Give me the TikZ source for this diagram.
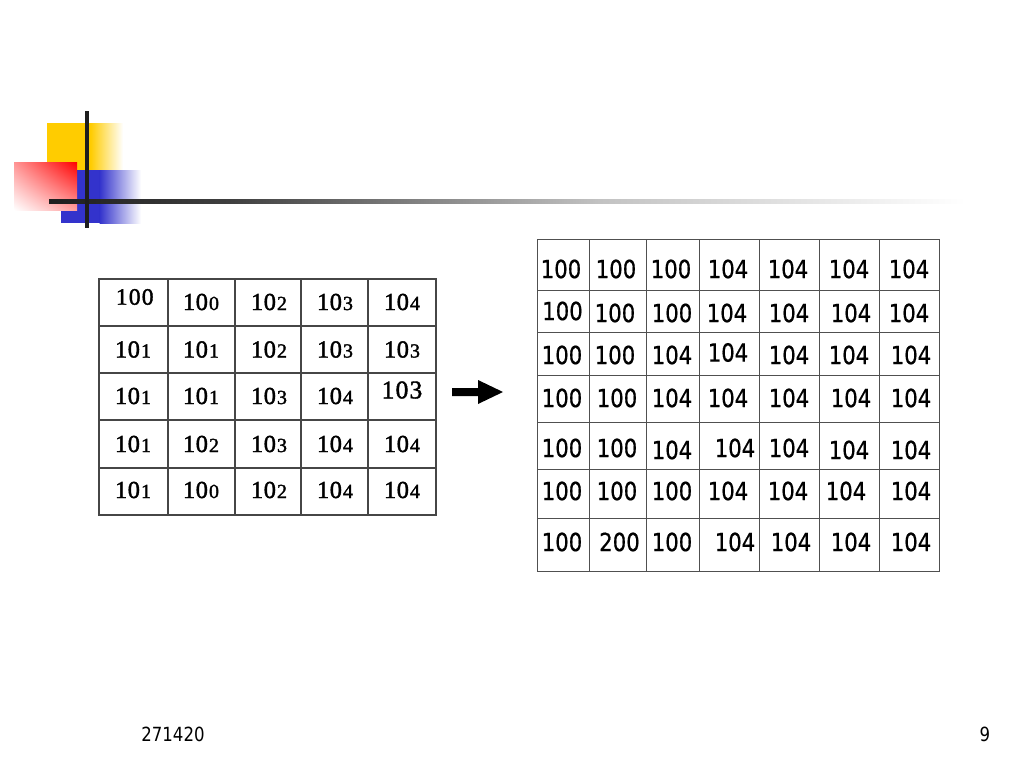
\documentclass[tikz,border=0pt]{standalone}
\usepackage{fontspec}
\usetikzlibrary{shadings}
\setmainfont{Liberation Serif}
\newfontfamily\tahf[FakeStretch=0.85,FakeBold=0.6]{DejaVu Sans}
\newfontfamily\footf[FakeStretch=0.85]{DejaVu Sans}
\newfontfamily\lserf[FakeBold=1.6]{Liberation Serif}
\definecolor{yel}{RGB}{255,204,0}
\definecolor{blu}{RGB}{51,51,204}
\definecolor{grd}{RGB}{30,30,30}
\definecolor{lgrid}{RGB}{70,70,70}
\definecolor{rgrid}{RGB}{80,80,80}
\pgfdeclarehorizontalshading{hlfade}{100bp}{color(0bp)=(grd); color(25bp)=(grd); color(35bp)=(grd!85!white); color(55bp)=(black!24); color(75bp)=(white); color(100bp)=(white)}
\newcommand\LTcell[3]{{\lserf\fontsize{24.5}{24.5}\selectfont #1\kern0.5pt#2\kern1pt{\fontsize{20}{20}\selectfont #3}}}
\newcommand\LBcell[4]{{\lserf\fontsize{#4}{#4}\selectfont #1\kern1.2pt#2\kern1.2pt#3}}
\tikzset{
  lcell/.style={draw=lgrid, line width=1.3pt, inner sep=0pt, outer sep=0pt},
  rcell/.style={draw=rgrid, line width=0.9pt, inner sep=0pt, outer sep=0pt},
  ltxt/.style={inner sep=0pt, text=black},
  rtxt/.style={inner sep=0pt, text=black, font=\tahf\fontsize{25}{25}\selectfont},
  foot/.style={inner sep=0pt, text=black, font=\footf\fontsize{19.5}{19.5}\selectfont},
}
\begin{document}
\begin{tikzpicture}[x=1pt,y=-1pt]
\useasboundingbox (0,0) rectangle (1024,768);
\fill[white] (0,0) rectangle (1024,768);

% decoration
\fill[yel] (47,123) rectangle (91,170);
\shade[left color=yel,right color=white] (90.5,123) rectangle (123,170);
\fill[blu] (61,170) rectangle (100,223);
\shade[left color=blu,right color=white] (99.5,170) rectangle (141,223);
\shade[upper left=red!42, upper right=red, lower left=white, lower right=red!38] (14,162) rectangle (77,210);
\shade[shading=hlfade] (49,199.3) rectangle (965,203.7);
\fill[grd] (85.3,111) rectangle (88.7,228);

% left table cells
\foreach \c/\xa/\xb in {1/99/168,2/168/235,3/235/301,4/301/368,5/368/436}
  \foreach \r/\ya/\yb in {1/279/326,2/326/373,3/373/420,4/420/468,5/468/515}
    \node[lcell, minimum width={(\xb-\xa)*1pt}, minimum height={(\yb-\ya)*1pt}] (L\r\c) at ({(\xa+\xb)/2},{(\ya+\yb)/2}) {};

% left table texts
\node[ltxt] (tL11) at (134.7,297) {\LBcell100{23.5}};
\foreach \r/\c/\x/\y/\a/\b in {
  1/2/201/302/0/0, 1/3/269/302/0/2, 1/4/335/302/0/3, 1/5/402/302/0/4,
  2/1/133/349.5/0/1, 2/2/201/349.5/0/1, 2/3/269/349.5/0/2, 2/4/335/349.5/0/3, 2/5/402/349.5/0/3,
  3/1/133/396/0/1, 3/2/201/396/0/1, 3/3/269/396/0/3, 3/4/335/396/0/4,
  4/1/133/444/0/1, 4/2/201/444/0/2, 4/3/269/444/0/3, 4/4/335/444/0/4, 4/5/402/444/0/4,
  5/1/133/490/0/1, 5/2/201/490/0/0, 5/3/269/490/0/2, 5/4/335/490/0/4, 5/5/402/490/0/4}
  \node[ltxt] (tL\r\c) at (\x,\y) {\LTcell1\a\b};
\node[ltxt] (tL35) at (402,390) {\LBcell103{25.5}};

% right table cells
\foreach \c/\xa/\xb in {1/537/589,2/589/646,3/646/699.5,4/699.5/759,5/759/819,6/819/879,7/879/939}
  \foreach \r/\ya/\yb in {1/239/290,2/290/332,3/332/375,4/375/422,5/422/469,6/469/518,7/518/571}
    \node[rcell, minimum width={(\xb-\xa)*1pt}, minimum height={(\yb-\ya)*1pt}] (R\r\c) at ({(\xa+\xb)/2},{(\ya+\yb)/2}) {};

% right table texts
\foreach \r/\c/\x/\y/\t in {
  1/1/561/269/100, 1/2/616/269/100, 1/3/671/269/100, 1/4/728/269/104, 1/5/788/269/104, 1/6/849/269/104, 1/7/909/269/104,
  2/1/562.5/311/100, 2/2/615/313/100, 2/3/672/313/100, 2/4/727/313/104, 2/5/789/313/104, 2/6/851/313/104, 2/7/909/313/104,
  3/1/562/355/100, 3/2/615/355/100, 3/3/672/355/104, 3/4/728/352.5/104, 3/5/789/355/104, 3/6/849/355/104, 3/7/911/355/104,
  4/1/562/398/100, 4/2/617/398/100, 4/3/672/398/104, 4/4/728/398/104, 4/5/789/398/104, 4/6/851/398/104, 4/7/911/398/104,
  5/1/562/448/100, 5/2/617/448/100, 5/3/672/450/104, 5/4/735/448/104, 5/5/789/448/104, 5/6/849/450/104, 5/7/911/450/104,
  6/1/562/491/100, 6/2/617/491/100, 6/3/672/491/100, 6/4/728/491/104, 6/5/788/491/104, 6/6/846/491/104, 6/7/911/491/104,
  7/1/562/542/100, 7/2/619.5/542/200, 7/3/672/542/100, 7/4/735/542/104, 7/5/791/542/104, 7/6/851/542/104, 7/7/911/542/104}
  \node[rtxt] (tR\r\c) at (\x,\y) {\t};

% block arrow
\fill[black] (452,388) -- (478,388) -- (478,380) -- (503,392) -- (478,404) -- (478,396) -- (452,396) -- cycle;

% footer
\node[foot] (date) at (173,734.5) {271420};
\node[foot] (page) at (985,734.5) {9};
\end{tikzpicture}
\end{document}
